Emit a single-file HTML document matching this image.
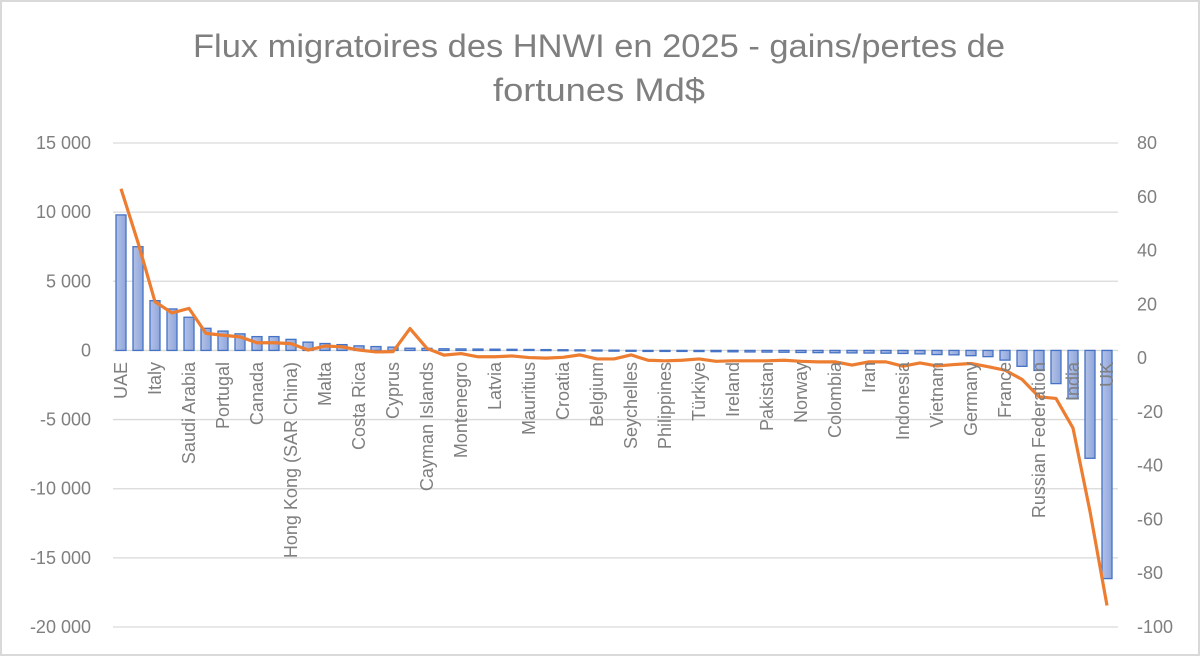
<!DOCTYPE html>
<html><head><meta charset="utf-8"><style>
html,body{margin:0;padding:0;background:#fff;}
svg{display:block;font-family:"Liberation Sans",sans-serif;}
</style></head><body>
<svg id="chart" width="1200" height="656" viewBox="0 0 1200 656" xmlns="http://www.w3.org/2000/svg">
<defs><linearGradient id="bg" x1="0" x2="1" y1="0" y2="0"><stop offset="0" stop-color="#b3c1e6"/><stop offset="1" stop-color="#8fa6dc"/></linearGradient></defs>
<rect x="1" y="1" width="1198" height="654" fill="#fff" stroke="#d9d9d9" stroke-width="2"/>
<text x="193" y="57" font-size="32" fill="#7f7f7f" textLength="812" lengthAdjust="spacingAndGlyphs">Flux migratoires des HNWI en 2025 - gains/pertes de</text>
<text x="493" y="101" font-size="32" fill="#7f7f7f" textLength="212" lengthAdjust="spacingAndGlyphs">fortunes Md$</text>
<g id="grid"></g><g id="bars"></g><g id="line"></g><g id="labels"></g>
</svg>
<script>
const categories=["UAE","USA","Italy","Switzerland","Saudi Arabia","Singapore","Portugal","Greece","Canada","Australia","Hong Kong (SAR China)","New Zealand","Malta","Monaco","Costa Rica","Panama","Cyprus","Japan","Cayman Islands","Thailand","Montenegro","Bermuda","Latvia","Israel","Mauritius","Netherlands","Croatia","Lithuania","Belgium","Estonia","Seychelles","Chile","Philippines","Argentina","Türkiye","Egypt","Ireland","Austria","Pakistan","Mexico","Norway","Kenya","Colombia","Poland","Iran","Sweden","Indonesia","Nigeria","Vietnam","Taiwan","Germany","Spain","France","Brazil","Russian Federation","South Korea","India","China","UK"];
const migrants=[9800,7500,3600,3000,2400,1600,1400,1200,1000,1000,800,600,500,420,330,280,240,160,150,120,110,100,90,80,70,60,50,40,30,20,10,-20,-40,-60,-80,-90,-100,-110,-120,-130,-150,-160,-170,-180,-190,-200,-220,-250,-300,-320,-380,-450,-700,-1150,-1450,-2400,-3500,-7800,-16500];
const wealth=[63,43,21,16.8,18.5,9.2,8.5,7.9,5.7,5.7,5.4,3,4.5,4.2,3,2.3,2.4,11,3.6,1.1,1.7,0.5,0.5,0.8,0.2,0,0.3,1.2,-0.3,-0.3,1.2,-0.8,-1,-0.8,-0.3,-1.2,-1,-1,-1,-0.8,-1.2,-1.4,-1.4,-2.6,-1.4,-1.4,-3,-1.8,-2.9,-2.4,-2,-3.2,-4.5,-7.9,-14.4,-15,-26,-57,-92];
const leftTicks=[15000,10000,5000,0,-5000,-10000,-15000,-20000];
const rightTicks=[80,60,40,20,0,-20,-40,-60,-80,-100];
const NS="http://www.w3.org/2000/svg";
const plotTop=143,plotBot=627;
const yL=v=>plotTop+(15000-v)/35000*(plotBot-plotTop);
const yR=v=>plotTop+(80-v)/180*(plotBot-plotTop);
const xC=i=>121+i*17;
function mk(t,a,p){const e=document.createElementNS(NS,t);for(const k in a)e.setAttribute(k,a[k]);p.appendChild(e);return e;}
const fmt=v=>{const s=Math.abs(v).toString().replace(/\B(?=(\d{3})+(?!\d))/g," ");return (v<0?"-":"")+s;};
const g=document.getElementById('grid');
leftTicks.forEach(v=>{
 const l=mk('line',{x1:113,x2:1118,y1:yL(v),y2:yL(v),stroke:'#d9d9d9','stroke-width':1.3},g);
 
 
 const t=mk('text',{x:91,y:yL(v)+6,'text-anchor':'end','font-size':18,fill:'#7f7f7f'},g);
 t.textContent=fmt(v);
 
 
});
rightTicks.forEach(v=>{
 const t=mk('text',{x:1137,y:yR(v)+6,'text-anchor':'start','font-size':18,fill:'#7f7f7f'},g);
 t.textContent=v;
 
 
});
const bg=document.getElementById('bars');
migrants.forEach((v,i)=>{
 const y0=yL(0),y1=yL(v);
 const r=mk('rect',{x:xC(i)-5,y:Math.min(y0,y1),width:10,height:Math.max(1,Math.abs(y1-y0)),fill:'url(#bg)',stroke:'#4472c4','stroke-width':1.3},bg);
 
 
});
const lg=document.getElementById('line');
const p=mk('polyline',{points:wealth.map((v,i)=>xC(i)+','+yR(v)).join(' '),fill:'none',stroke:'#ed7d31','stroke-width':3.2,'stroke-linejoin':'round'},lg);


const lb=document.getElementById('labels');
categories.forEach((c,i)=>{
 if(i%2)return;
 const x=xC(i)+6,y=362;
 const t=mk('text',{x:x,y:y,'text-anchor':'end','font-size':18,fill:'#7f7f7f',transform:'rotate(-90 '+x+' '+y+')'},lb);
 t.textContent=c;
 
 
});
</script>
</body></html>
